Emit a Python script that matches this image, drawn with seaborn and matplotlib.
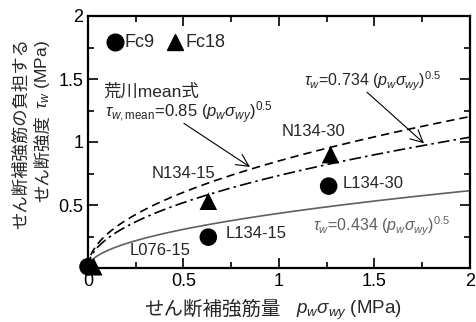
import numpy as np
import pandas as pd
import seaborn as sns
import matplotlib
matplotlib.use("Agg")
import matplotlib.pyplot as plt

# measured points
fc9_x = [0.0, 0.63, 1.26]
fc9_y = [0.01, 0.245, 0.65]
fc18_x = [0.03, 0.63, 1.27]
fc18_y = [0.01, 0.53, 0.90]

# tau_w = k * (pw*sigma_wy)^0.5
coef_names = ["mean", "fit", "low"]
coef_vals = [0.85, 0.734, 0.434]

sns.set_theme(style="ticks")
plt.rcParams["font.family"] = ["Liberation Sans", "Noto Sans CJK JP", "DejaVu Sans"]
plt.rcParams["mathtext.fontset"] = "custom"
plt.rcParams["mathtext.rm"] = "Liberation Sans"
plt.rcParams["mathtext.it"] = "Liberation Sans:italic"

W, H = 477, 322
fig = plt.figure(figsize=(W / 100, H / 100), dpi=100)
ax = fig.add_axes([88 / W, 1 - 268 / H, 382 / W, 252 / H])

xs = np.linspace(0, 2, 300)
styles = {"mean": dict(color="black", ls=(0, (5, 3))),
          "fit": dict(color="black", ls=(0, (7, 2.5, 1.5, 2.5))),
          "low": dict(color="#606060", ls="-")}
for name, k in zip(coef_names, coef_vals):
    sns.lineplot(x=xs, y=k * np.sqrt(xs), ax=ax, lw=1.2, **styles[name])

pts = pd.DataFrame({
    "x": fc9_x + fc18_x,
    "y": fc9_y + fc18_y,
    "Fc": ["Fc9"] * len(fc9_x) + ["Fc18"] * len(fc18_x),
})
sns.scatterplot(data=pts, x="x", y="y", style="Fc", markers={"Fc9": "o", "Fc18": "^"},
                color="black", s=160, edgecolor="none", ax=ax, legend=False,
                clip_on=False, zorder=5)

ax.set_xlim(0, 2)
ax.set_ylim(0, 2)
ax.set_xticks([0, 0.5, 1, 1.5, 2])
ax.set_xticklabels(["0", "0.5", "1", "1.5", "2"])
ax.set_yticks([0, 0.5, 1, 1.5, 2])
ax.set_yticklabels(["", "0.5", "1", "1.5", "2"])
ax.set_xticks([0.25, 0.75, 1.25, 1.75], minor=True)
ax.set_yticks([0.25, 0.75, 1.25, 1.75], minor=True)
ax.tick_params(which="both", direction="in", top=True, right=True, width=1.2,
               labelsize=13, color="black", labelcolor="black")
ax.tick_params(which="major", length=7)
ax.tick_params(which="minor", length=4)
for sp in ax.spines.values():
    sp.set_linewidth(1.6)
    sp.set_color("black")
ax.set_xlabel("")
ax.set_ylabel("")

# axis titles built from pieces so the CJK part keeps its font
fig.text(144 / W, 1 - 310 / H, "せん断補強筋量", fontsize=14, va="center", ha="left")
fig.text(296 / W, 1 - 310 / H, "$p_w\\sigma_{wy}$ (MPa)", fontsize=13.5, va="center", ha="left")
fig.text(21 / W, 1 - 38 / H, "せん断補強筋の負担する", fontsize=12.5, rotation=90,
         ha="center", va="top")
fig.text(43 / W, 1 - 40 / H, "$\\tau_w$ (MPa)", fontsize=12.5, rotation=90,
         ha="center", va="top")
fig.text(43 / W, 1 - 115 / H, "せん断強度", fontsize=12.5, rotation=90,
         ha="center", va="top")

# legend-like header
ax.plot([0.14], [1.79], "o", color="black", ms=12)
ax.text(0.19, 1.79, "Fc9", fontsize=13, va="center")
ax.plot([0.455], [1.79], "^", color="black", ms=12)
ax.text(0.51, 1.79, "Fc18", fontsize=13, va="center")

ax.text(0.08, 1.40, "荒川mean式", fontsize=12.5, va="center")
ax.text(0.09, 1.23, "$\\tau_{w\\mathrm{,mean}}$=0.85 ($p_w\\sigma_{wy}$)$^{0.5}$",
        fontsize=12, va="center")
ax.annotate("", xy=(0.86, 0.79), xytext=(0.49, 1.16),
            arrowprops=dict(arrowstyle="->", lw=0.8, color="black", mutation_scale=22))

ax.text(1.13, 1.48, "$\\tau_w$=0.734 ($p_w\\sigma_{wy}$)$^{0.5}$", fontsize=11.5, va="center")
ax.annotate("", xy=(1.77, 0.975), xytext=(1.45, 1.41),
            arrowprops=dict(arrowstyle="->", lw=0.8, color="black", mutation_scale=22))

ax.text(1.18, 0.33, "$\\tau_w$=0.434 ($p_w\\sigma_{wy}$)$^{0.5}$", fontsize=11.5,
        va="center", color="#606060")

lbl = dict(fontsize=12, va="center")
ax.text(0.50, 0.75, "N134-15", ha="center", **lbl)
ax.text(1.18, 1.08, "N134-30", ha="center", **lbl)
ax.text(0.72, 0.27, "L134-15", ha="left", **lbl)
ax.text(1.335, 0.67, "L134-30", ha="left", **lbl)
ax.text(0.38, 0.14, "L076-15", ha="center", **lbl)

fig.savefig("out.png", dpi=100)
